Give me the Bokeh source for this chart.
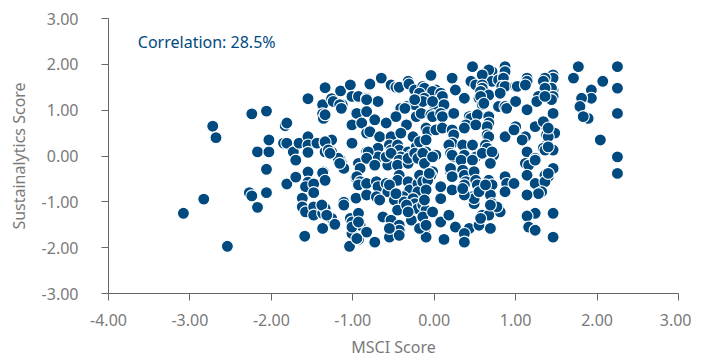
from bokeh.plotting import figure
from bokeh.models import Range1d, FixedTicker, Label, CustomJSTickFormatter, ColumnDataSource
from bokeh.embed import file_html
from bokeh.resources import INLINE

# MSCI score (x) and Sustainalytics score (y)
msci_score = [
    -3.08, -2.83, -2.54, -2.72, -2.68, -2.24, -2.06, -2.17, -2.03, -2.03,
    -2.06, -2.27, -2.24, -2.17, -2.06, -1.83, -1.81, -1.85, -1.81, -1.73,
    -1.70, -1.81, -1.70, -1.66, -1.55, -1.55, -1.55, -1.55, -1.44, -1.34,
    -1.37, -1.37, -1.36, -1.26, -1.15, -1.13, -1.03, -1.34, -1.26, -1.32,
    -1.34, -1.26, -1.01, -1.01, -1.15, -1.14, -1.11, -0.93, -0.96, -0.96,
    -1.55, -1.36, -1.55, -1.58, -1.48, -1.48, -1.34, -1.37, -1.62, -1.62,
    -1.58, -1.48, -1.48, -1.37, -1.34, -1.59, -1.37, -1.26, -1.22, -1.11,
    -1.11, -1.03, -1.01, -1.01, -1.04, -0.93, -0.93, -0.91, -0.96, -0.93,
    -0.96, -1.38, -1.32, -0.65, -0.79, -0.53, -0.47, -0.43, -0.32, -0.31,
    -0.24, -1.01, -0.93, -1.24, -0.83, -0.69, -1.16, -1.14, -0.34, -0.41,
    -0.24, -1.34, -0.95, -0.83, -0.47, -0.22, -0.73, -0.89, -0.59, -0.34,
    -0.83, -0.79, -0.67, -0.53, -0.41, -0.26, -1.34, -0.69, -0.83, -0.55,
    -0.53, -0.45, -0.43, -0.32, -0.22, -1.30, -1.18, -0.83, -0.69, -0.41,
    -0.28, -0.83, 0.47, 0.87, 0.87, 0.71, 0.67, 0.59, 0.22, -0.04,
    0.45, 0.51, 0.71, 0.79, 0.85, 0.59, 0.59, 0.57, -0.14, -0.12,
    0.02, -0.02, 0.26, 0.83, 0.87, 1.00, -0.18, 0.67, 0.81, 0.08,
    0.10, -0.12, -0.14, 0.37, 0.55, 0.57, 0.00, -0.02, 0.12, 0.59,
    0.61, 0.79, 0.87, 0.89, -0.16, -0.04, -0.02, 0.08, 0.10, 0.24,
    0.43, 0.45, 0.53, 0.67, 0.67, 0.65, 0.39, 0.51, -0.10, -0.08,
    0.02, 0.10, 0.22, 0.24, 0.37, 0.65, 0.67, 0.87, -0.18, -0.10,
    0.22, 0.18, 0.35, 0.47, 0.63, 0.65, -0.10, -0.12, 0.02, 0.20,
    0.24, 0.37, 0.51, 0.73, 1.77, 2.25, 1.71, 2.07, 2.25, 1.93,
    1.93, 1.81, 1.79, 1.89, 1.83, 2.25, 2.04, 2.25, 2.25, 1.46,
    1.46, 1.36, 1.34, 1.14, 1.14, 1.02, 1.46, 1.44, 1.36, 1.28,
    1.26, 1.46, 1.44, 1.36, 1.00, 1.14, 1.46, 1.00, 0.98, 1.24,
    1.36, 1.38, 1.48, 1.12, 1.08, 1.38, 1.38, 1.42, 1.34, 1.14,
    1.24, 1.12, 1.34, 1.40, 1.46, 1.36, -1.28, -1.16, -1.34, -0.81,
    -0.83, -0.91, -0.73, -0.57, -0.59, -0.53, -0.43, -0.45, -0.32, -0.32,
    -0.24, -0.20, -0.95, -0.91, -0.93, -0.83, -0.71, -0.69, -0.59, -0.57,
    -0.43, -0.45, -0.32, -0.30, -0.20, -0.20, -0.83, -0.71, -0.67, -0.49,
    -0.38, -0.37, -0.26, -0.24, -1.01, -0.93, -0.83, -0.95, -0.73, -0.63,
    -0.53, -0.43, -0.43, -0.55, -0.30, -0.28, -0.20, -0.14, -0.12, -0.02,
    -0.02, 0.22, 0.33, 0.35, 0.47, 0.59, 0.71, 0.69, 0.20, 0.20,
    0.37, 0.39, 0.37, 0.49, 0.51, 0.53, 0.67, 0.71, 0.87, 0.89,
    0.98, 0.87, -0.18, -0.14, -0.04, -0.08, 0.08, 0.08, 0.22, 0.47,
    0.49, 0.69, 0.71, 0.79, 0.81, -0.14, -0.10, -0.14, -0.02, 0.08,
    0.18, 0.26, 0.43, 0.37, 0.37, 0.55, 0.59, 0.69, -0.12, -0.10,
    0.12, -0.18, 1.12, 1.16, 1.24, 1.46, 1.14, 1.36, 1.40, 1.24,
    1.36, 1.32, 1.28, 1.14, 1.24, 1.14, 1.46, 1.16, 1.24, 1.46,
    -0.43, -0.10, 0.77, 0.67, 0.57, 0.69, 0.49, 0.55, 0.63, 0.37,
    0.35, 0.22, -0.10, -0.12, -0.06, -0.55, -0.47, -0.45, -0.34, -0.32,
    -0.55, 1.40, 1.40, 1.40, -0.36, -0.24,
]
sustainalytics_score = [
    -1.25, -0.94, -1.97, 0.65, 0.40, 0.92, 0.98, 0.09, 0.09, 0.35,
    -0.29, -0.80, -0.87, -1.12, -0.80, 0.66, 0.72, 0.28, 0.28, 0.09,
    -0.09, -0.61, -0.46, 0.28, 0.42, 0.24, 0.08, 1.25, 0.28, 1.49,
    1.12, 0.92, 0.82, 1.25, 1.42, 1.12, 1.55, 0.28, 0.35, 0.17,
    0.09, 0.09, 0.68, 0.28, -0.09, -0.16, -0.27, -0.16, 1.30, 0.94,
    -0.35, -0.35, -0.57, -0.67, -0.61, -0.80, -0.54, -0.37, -0.92, -1.11,
    -1.22, -1.11, -1.29, -1.25, -1.14, -1.75, -1.58, -1.36, -1.49, -1.01,
    -1.07, -1.36, -1.44, -1.69, -1.97, -1.25, -1.82, -1.51, -0.92, -0.59,
    -0.48, -1.07, -1.29, 1.70, 1.57, 1.55, 1.50, 1.50, 1.63, 1.57,
    1.44, 1.30, 1.30, 1.19, 1.26, 1.19, 1.12, 1.04, 1.08, 1.04,
    1.12, 0.90, 0.93, 0.97, 0.86, 0.86, 0.79, 0.72, 0.72, 0.68,
    0.50, 0.53, 0.42, 0.42, 0.50, 0.42, 0.31, 0.17, 0.09, 0.24,
    0.13, 0.24, 0.13, 0.09, 0.20, 0.13, -0.05, -0.02, -0.02, -0.02,
    0.02, 1.23, 1.95, 1.95, 1.84, 1.84, 1.88, 1.77, 1.70, 1.76,
    1.63, 1.55, 1.63, 1.66, 1.70, 1.55, 1.48, 1.41, 1.52, 1.48,
    1.44, 1.41, 1.44, 1.52, 1.52, 1.52, 1.37, 1.33, 1.37, 1.37,
    1.30, 1.26, 1.19, 1.26, 1.26, 1.30, 1.12, 1.19, 1.12, 1.12,
    1.15, 1.08, 1.08, 1.04, 0.93, 0.90, 0.86, 0.93, 0.86, 0.93,
    0.86, 0.82, 0.90, 0.86, 0.72, 0.64, 0.68, 0.68, 0.61, 0.53,
    0.57, 0.61, 0.57, 0.46, 0.61, 0.46, 0.42, 0.42, 0.31, 0.35,
    0.28, 0.24, 0.24, 0.24, 0.24, 0.17, 0.09, 0.02, 0.02, 0.06,
    -0.02, 0.02, -0.02, 0.02, 1.95, 1.95, 1.70, 1.63, 1.48, 1.44,
    1.26, 1.26, 1.08, 0.82, 0.86, 0.93, 0.35, -0.02, -0.38, 1.77,
    1.70, 1.70, 1.63, 1.70, 1.63, 1.52, 1.44, 1.48, 1.48, 1.30,
    1.19, 1.30, 1.23, 1.30, 1.19, 1.01, 0.93, 0.64, 0.57, 0.64,
    0.72, 0.64, 0.50, 0.42, 0.35, 0.46, 0.24, 0.17, 0.17, 0.09,
    -0.05, 1.55, 0.75, 0.42, 0.13, 0.13, 0.06, -0.16, -0.53, 0.09,
    -0.05, -0.27, -0.20, -0.20, -0.02, 0.06, -0.09, -0.20, -0.16, -0.05,
    0.06, -0.05, -0.45, -0.56, -0.63, -0.60, -0.56, -0.67, -0.60, -0.78,
    -0.42, -0.53, -0.56, -0.74, -0.60, -0.78, -0.85, -0.89, -0.96, -0.96,
    -0.89, -1.00, -0.93, -1.04, -1.55, -1.44, -1.66, -1.80, -1.88, -1.33,
    -1.40, -1.51, -1.62, -1.77, -1.25, -1.40, -1.15, 0.06, -0.16, -0.02,
    -0.34, 0.02, -0.09, -0.31, -0.09, 0.06, 0.09, -0.16, -0.34, -0.27,
    -0.42, -0.56, -0.63, -0.34, -0.53, -0.63, -0.53, -0.63, -0.45, -0.60,
    -0.60, -0.78, -0.42, -0.56, -0.42, -0.53, -0.67, -0.93, -0.74, -0.89,
    -1.04, -0.85, -1.04, -1.15, -1.22, -1.07, -1.18, -1.33, -1.22, -1.44,
    -1.29, -1.55, -1.58, -1.69, -1.88, -1.51, -1.29, -1.58, -1.66, -1.77,
    -1.82, -1.58, -0.16, -0.20, -0.09, -0.27, -0.42, -0.42, -0.45, -0.60,
    -0.56, -0.78, -0.82, -0.85, -1.25, -1.31, -1.25, -1.55, -1.62, -1.77,
    -1.73, -1.51, -1.11, -1.29, -1.36, -1.07, -0.93, -0.78, -0.63, -0.85,
    -0.71, -0.45, -0.74, -0.96, -0.38, -0.63, -0.82, -1.18, -1.07, -1.22,
    -1.58, 0.61, 0.20, -0.38, 1.04, 1.23,
]

x_ticks = [-4, -3, -2, -1, 0, 1, 2, 3]
y_ticks = [-3, -2, -1, 0, 1, 2, 3]
correlation_text = "Correlation: 28.5%"

n = min(len(msci_score), len(sustainalytics_score))
src = ColumnDataSource(dict(x=msci_score[:n], y=sustainalytics_score[:n]))

FONT = "Noto Sans"
GREY = "#7a7a7a"
BLUE = "#004a80"

p = figure(width=691, height=360, output_backend="svg", toolbar_location=None,
           x_range=Range1d(-4, 3), y_range=Range1d(-3, 3),
           min_border_left=108, min_border_right=13, min_border_top=18,
           min_border_bottom=0)
p.outline_line_color = None
p.grid.visible = False
p.background_fill_color = "white"

p.scatter("x", "y", source=src, size=12, fill_color=BLUE, line_color="white",
          line_width=1.1)

fmt = CustomJSTickFormatter(code="return tick.toFixed(2);")
for ax, ticks, label in ((p.xaxis[0], x_ticks, "MSCI Score"),
                         (p.yaxis[0], y_ticks, "Sustainalytics Score")):
    ax.ticker = FixedTicker(ticks=ticks)
    ax.formatter = fmt
    ax.axis_label = label
    ax.axis_label_text_font = FONT
    ax.axis_label_text_font_style = "normal"
    ax.axis_label_text_font_size = "16px"
    ax.axis_label_text_color = GREY
    ax.major_label_text_font = FONT
    ax.major_label_text_font_size = "16px"
    ax.major_label_text_color = GREY
    ax.axis_line_color = "#666666"
    ax.major_tick_line_color = "#666666"
    ax.minor_tick_line_color = None
    ax.major_tick_in = 0
    ax.major_tick_out = 7

p.xaxis[0].major_label_standoff = 13
p.xaxis[0].axis_label_standoff = 7
p.yaxis[0].major_label_standoff = 23
p.yaxis[0].axis_label_standoff = 9

p.add_layout(Label(x=-3.64, y=2.49, text=correlation_text, text_font=FONT,
                   text_font_size="16px", text_color=BLUE,
                   text_baseline="middle"))

open("out.html", "w").write(file_html(p, INLINE))
